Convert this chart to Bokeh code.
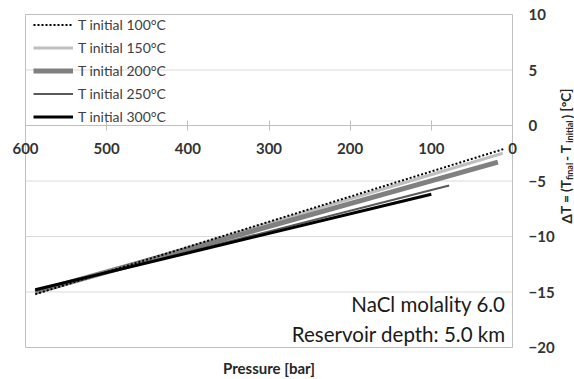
from bokeh.plotting import figure
from bokeh.models import Range1d, LinearAxis, FixedTicker, Legend, LegendItem, Label
from bokeh.embed import file_html
from bokeh.resources import INLINE

# ---------------- data ----------------
series_labels = ["T initial 100°C", "T initial 150°C", "T initial 200°C",
                 "T initial 250°C", "T initial 300°C"]
p_100 = [588, 10]
dT_100 = [-15.2, -2.1]
p_150 = [588, 12]
dT_150 = [-15.1, -2.5]
p_200 = [588, 18]
dT_200 = [-15.0, -3.3]
p_250 = [588, 78]
dT_250 = [-14.9, -5.4]
p_300 = [588, 100]
dT_300 = [-14.8, -6.2]

x_ticks = [600, 500, 400, 300, 200, 100, 0]
y_ticks = [10, 5, 0, -5, -10, -15, -20]
grid_vals = [5, -5, -10, -15]
notes = ["NaCl molality 6.0", "Reservoir depth: 5.0 km"]
x_title = "Pressure [bar]"
y_title_parts = [("ΔT = (T", False), ("final", True), (" - T", False),
                 ("initial", True), (") [°C]", False)]

# ---------------- layout ----------------
W, H = 574, 379
FL, FR, FT, FB = 25, 512, 14, 347          # plot-area box in pixels
x_max, x_min = max(x_ticks), min(x_ticks)
y_max, y_min = max(y_ticks), min(y_ticks)
sx = (FR - FL) / (x_max - x_min)
sy = (FB - FT) / (y_max - y_min)
x_range = Range1d(x_max + FL / sx, x_min - (W - FR) / sx)
y_range = Range1d(y_min - (H - FB) / sy, y_max + FT / sy)

FONT = "Lato"
TXT = "#333333"

p = figure(width=W, height=H, output_backend="svg", toolbar_location=None,
           x_range=x_range, y_range=y_range, x_axis_type=None, y_axis_type=None,
           min_border=0, min_border_left=0, min_border_right=0,
           min_border_top=0, min_border_bottom=0)
p.outline_line_color = None
p.background_fill_color = "white"
p.border_fill_color = "white"

# horizontal gridlines
p.segment(x0=[x_max] * len(grid_vals), x1=[x_min] * len(grid_vals),
          y0=grid_vals, y1=grid_vals, line_color="#d9d9d9", line_width=1)
# plot-area border
p.quad(left=[x_max], right=[x_min], bottom=[y_min], top=[y_max],
       fill_alpha=0, line_color="#bfbfbf", line_width=1)

# right value axis, drawn at the right edge (pressure 0)
yaxis = LinearAxis(ticker=FixedTicker(ticks=y_ticks), fixed_location=x_min,
                   bounds=(y_min, y_max))
yaxis.axis_line_color = None
yaxis.major_tick_line_color = None
yaxis.minor_tick_line_color = None
yaxis.major_tick_in = 0
yaxis.major_tick_out = 0
yaxis.major_label_standoff = 16
yaxis.major_label_text_font = FONT
yaxis.major_label_text_font_size = "15px"
yaxis.major_label_text_font_style = "bold"
yaxis.major_label_text_color = TXT
p.add_layout(yaxis, "right")

# pressure axis drawn at dT = 0
xaxis = LinearAxis(ticker=FixedTicker(ticks=x_ticks), fixed_location=0,
                   bounds=(x_min, x_max))
xaxis.axis_line_color = "#bfbfbf"
xaxis.major_tick_line_color = "#bfbfbf"
xaxis.minor_tick_line_color = None
xaxis.major_tick_in = 5
xaxis.major_tick_out = 5
xaxis.major_label_standoff = 12
xaxis.major_label_text_font = FONT
xaxis.major_label_text_font_size = "15px"
xaxis.major_label_text_font_style = "bold"
xaxis.major_label_text_color = TXT
p.add_layout(xaxis, "below")

# lines (draw order)
r150 = p.line(p_150, dT_150, line_color="#bfbfbf", line_width=3)
r200 = p.line(p_200, dT_200, line_color="#808080", line_width=5)
r100 = p.line(p_100, dT_100, line_color="#000000", line_width=2, line_dash="2 2")
r250 = p.line(p_250, dT_250, line_color="#595959", line_width=2)
r300 = p.line(p_300, dT_300, line_color="#000000", line_width=3)

rends = [r100, r150, r200, r250, r300]
legend = Legend(items=[LegendItem(label=l, renderers=[r]) for l, r in zip(series_labels, rends)],
                location=(33, 252), padding=0, margin=0, spacing=2,
                glyph_width=40, glyph_height=21, label_height=21, label_standoff=5,
                label_text_font=FONT, label_text_font_size="14px",
                label_text_color="#404040",
                border_line_alpha=0, background_fill_alpha=0)
p.add_layout(legend)

# notes (screen units from bottom-left)
for txt, yy in zip(notes, [H - 303, H - 333]):
    p.add_layout(Label(x=FR - 7, y=yy, x_units="screen", y_units="screen", text=txt,
                       text_align="right", text_baseline="middle",
                       text_font=FONT, text_font_size="20.5px", text_color="#1a1a1a"))

# x title
p.add_layout(Label(x=(FL + FR) / 2, y=H - 367, x_units="screen", y_units="screen",
                   text=x_title, text_align="center", text_baseline="middle",
                   text_font=FONT, text_font_size="15px", text_font_style="bold",
                   text_color="#262626"))

# y title (rotated, pieces with subscripts)
em = {"Δ": .66, "T": .56, " ": .19, "=": .58, "(": .32, ")": .32, "-": .36,
      "[": .32, "]": .32, "°": .38, "C": .65, "f": .34, "i": .25, "n": .57,
      "a": .51, "l": .25, "t": .36}
pos = float(H - 223)
for txt, sub in y_title_parts:
    size = 9 if sub else 13.5
    fac = 1.1 if sub else 1.05
    p.add_layout(Label(x=566 + (3 if sub else 0), y=pos, x_units="screen", y_units="screen",
                       text=txt, angle=1.5708, angle_units="rad",
                       text_align="left", text_baseline="middle",
                       text_font=FONT, text_font_size=f"{size}px", text_font_style="bold",
                       text_color="#262626"))
    pos += sum(em.get(c, .5) for c in txt) * size * fac

open("out.html", "w").write(file_html(p, INLINE))
